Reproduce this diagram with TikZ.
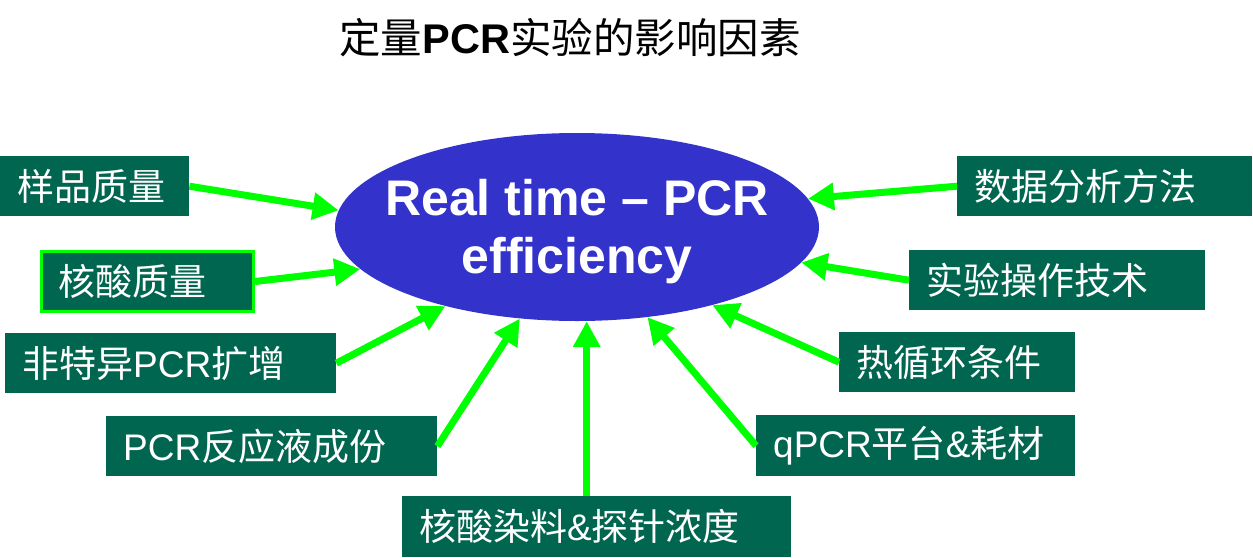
\documentclass[tikz,border=0pt]{standalone}
\usepackage{fontspec}
\setmainfont{Liberation Sans}
\newfontfamily\cjk{Noto Sans CJK SC}
\usetikzlibrary{shapes.geometric,arrows.meta,positioning}
\definecolor{boxgreen}{RGB}{0,102,80}
\definecolor{arrowgreen}{RGB}{0,255,0}
\definecolor{effblue}{RGB}{51,51,204}

\begin{document}
\begin{tikzpicture}[x=1pt,y=1pt,
  factor/.style={fill=boxgreen,text=white,anchor=north west,inner xsep=17pt,inner ysep=0pt,
    minimum height=60pt,align=left,font=\fontsize{37}{40}\selectfont},
  effnode/.style={ellipse,fill=effblue,text=white,minimum width=484pt,minimum height=188pt,
    inner sep=-25pt,align=center,font=\fontsize{50}{58}\selectfont\bfseries},
  toeff/.style={arrowgreen,line width=7pt,-{Triangle[length=26pt,width=26pt]}}
]
\useasboundingbox (0,0) rectangle (1253,-557);

% the title
\node[font=\fontsize{41.5}{48}\selectfont] (title) at (570,-38) {{\cjk 定量}\textbf{PCR}{\cjk 实验的影响因素}};

% the centre
\node[effnode] (eff) at (577,-227) {\rule{0pt}{46pt}Real time – PCR\\efficiency};

% the factors on the left
\node[factor,text width=155pt] (samp) at (0,-156) {\cjk 样品质量};
\node[factor,text width=178pt,minimum height=60pt,draw=arrowgreen,line width=3pt] (nucl) at (40,-250) {\cjk 核酸质量};
\node[factor,text width=297pt] (nons) at (5,-333) {{\cjk 非特异}PCR{\cjk 扩增}};
\node[factor,text width=297pt] (mix) at (106,-416) {PCR{\cjk 反应液成份}};
\node[factor,text width=355pt,minimum height=61pt] (dye) at (402,-496) {{\cjk 核酸染料}\&{\cjk 探针浓度}};

% the factors on the right
\node[factor,text width=285pt,minimum height=61pt] (qpcr) at (756,-415) {qPCR{\cjk 平台}\&{\cjk 耗材}};
\node[factor,text width=202pt] (therm) at (839,-332) {\cjk 热循环条件};
\node[factor,text width=262pt] (oper) at (909,-250) {\cjk 实验操作技术};
\node[factor,text width=261pt] (data) at (957,-156) {\cjk 数据分析方法};

% the arrows
\foreach \from/\ang in {samp.east/176, nucl.east/191, nons.east/211, mix.east/238,
                        qpcr.west/308, therm.west/330, oper.west/351, data.west/7}
  \draw[toeff] (\from) -- (eff.\ang);
\coordinate[left=10pt of dye.north] (dyetop);
\draw[toeff] (dyetop) -- (dyetop |- eff.south);
\end{tikzpicture}
\end{document}
